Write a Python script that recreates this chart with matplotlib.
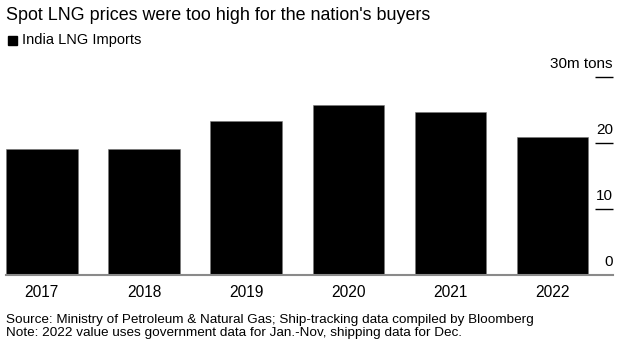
import numpy as np
import matplotlib.pyplot as plt

plt.rcParams['font.family'] = ['Liberation Sans', 'DejaVu Sans']

years = ['2017', '2018', '2019', '2020', '2021', '2022']
imports = [19.1, 19.1, 23.3, 25.8, 24.7, 20.9]
yticks = [0, 10, 20, 30]
ytick_labels = ['0', '10', '20', '30m tons']

W, H = 627, 347
fig = plt.figure(figsize=(W / 100, H / 100), dpi=100)
ax = fig.add_axes([6 / W, (H - 275) / H, 607 / W, 198 / H])

x = np.arange(len(years))
ax.bar(x, imports, width=0.7, color='black', edgecolor='#777777', linewidth=0.4, zorder=2)
ax.set_xlim(-0.35, 5.59)
ax.set_ylim(0, 30)

for s in ['top', 'right', 'left']:
    ax.spines[s].set_visible(False)
ax.spines['bottom'].set_color('#8a8a8a')
ax.spines['bottom'].set_linewidth(1.5)
ax.spines['bottom'].set_zorder(3)
ax.set_yticks([])
ax.set_xticks(x)
ax.set_xticklabels(years, fontsize=11.2)
ax.tick_params(axis='x', length=0, pad=7)

# short tick lines and labels on the right edge
tr = ax.get_yaxis_transform()
for v, lab in zip(yticks, ytick_labels):
    if v > 0:
        ax.plot([0.971, 1.0], [v, v], transform=tr, color='black', lw=1.0,
                clip_on=False, solid_capstyle='butt')
    ax.annotate(lab, xy=(1.0, v), xycoords=tr, xytext=(0, 4.5), textcoords='offset points',
                ha='right', va='bottom', fontsize=11, annotation_clip=False)

fig.text(6 / W, 1 - 15 / H, "Spot LNG prices were too high for the nation's buyers",
         fontsize=12.85, va='center', ha='left')
fig.patches.append(plt.Rectangle((8 / W, 1 - 45 / H), 9 / W, 9 / H,
                                 transform=fig.transFigure, color='black'))
fig.text(22 / W, 1 - 40 / H, 'India LNG Imports', fontsize=10.5, va='center', ha='left')

fig.text(6 / W, 1 - 320 / H,
         'Source: Ministry of Petroleum & Natural Gas; Ship-tracking data compiled by Bloomberg',
         fontsize=9.7, va='center', ha='left')
fig.text(6 / W, 1 - 333 / H,
         'Note: 2022 value uses government data for Jan.-Nov, shipping data for Dec.',
         fontsize=9.7, va='center', ha='left')

fig.savefig('out.png', dpi=100)
